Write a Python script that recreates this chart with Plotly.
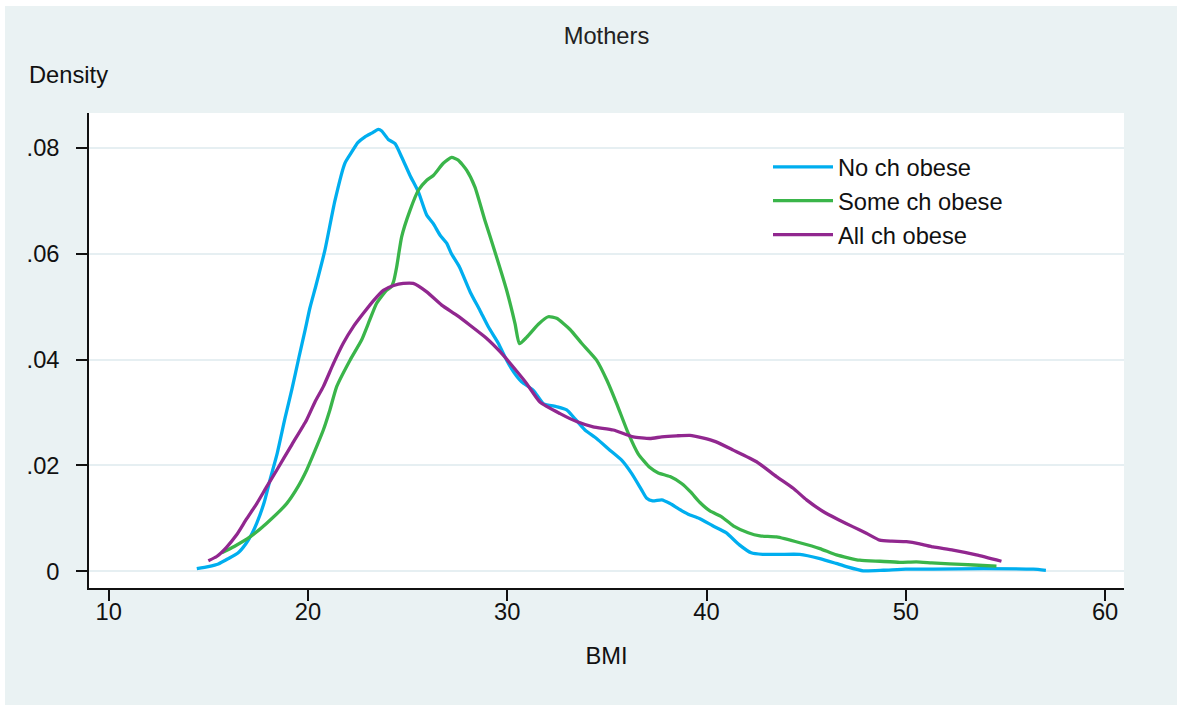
import plotly.graph_objects as go

# ---------------- data ----------------
series_names = ["No ch obese", "Some ch obese", "All ch obese"]

no_ch_bmi = [14.42, 15.0, 15.5, 16.0, 16.5, 16.9, 17.2, 17.43, 17.8, 18.11, 18.45, 18.85, 19.2, 19.55,
             19.85, 20.1, 20.4, 20.85, 21.35, 21.85, 22.19, 22.5, 22.86, 23.2, 23.53, 23.7, 24.03,
             24.37, 24.70, 25.12, 25.54, 25.96, 26.29, 26.63, 26.96, 27.2, 27.6, 28.15, 28.63, 29.05,
             29.55, 29.97, 30.35, 30.72, 31.31, 31.81, 32.48, 32.98, 33.31, 33.90, 34.48, 35.15,
             35.74, 36.24, 36.74, 37.0, 37.3, 37.75, 38.17, 38.6, 39.08, 39.64, 40.31, 40.98, 41.65,
             42.24, 42.82, 43.7, 44.68, 45.69, 46.5, 47.02, 47.86, 48.87, 50.0, 51.4, 53.9, 56.4, 57.03]
no_ch_density = [0.0005, 0.0009, 0.0014, 0.0024, 0.0035, 0.0053, 0.0072, 0.0091, 0.0130, 0.0175,
                 0.0222, 0.0290, 0.0345, 0.0405, 0.0455, 0.0498, 0.0540, 0.0607, 0.0700, 0.0771,
                 0.0792, 0.0810, 0.0821, 0.0828, 0.0835, 0.0832, 0.0816, 0.0808, 0.0783, 0.0748,
                 0.0717, 0.0673, 0.0657, 0.0635, 0.0620, 0.0600, 0.0575, 0.0527, 0.0493, 0.0462,
                 0.0431, 0.0399, 0.0375, 0.0358, 0.0342, 0.0317, 0.0311, 0.0305, 0.0292, 0.0267,
                 0.0251, 0.0229, 0.0210, 0.0185, 0.0154, 0.0138, 0.0133, 0.0135, 0.0128, 0.0118,
                 0.0108, 0.0100, 0.0086, 0.0073, 0.0050, 0.0035, 0.0032, 0.0032, 0.0032, 0.0024,
                 0.0015, 0.0009, 0.0001, 0.0002, 0.0004, 0.0004, 0.0005, 0.0004, 0.0002]

some_ch_bmi = [15.67, 16.3, 17.09, 17.93, 18.93, 19.5, 19.93, 20.35, 20.77, 21.1, 21.44, 22.11,
               22.69, 23.1, 23.44, 23.94, 24.19, 24.3, 24.45, 24.70, 25.12, 25.54, 25.96, 26.29,
               26.79, 27.21, 27.54, 27.96, 28.38, 28.88, 29.38, 29.97, 30.39, 30.61, 30.97, 31.56,
               32.06, 32.48, 33.15, 33.73, 34.48, 35.0, 35.49, 36.07, 36.57, 37.16, 37.58, 38.17,
               38.75, 39.2, 39.67, 40.17, 40.76, 41.34, 42.09, 42.68, 43.51, 44.68, 45.69, 46.52,
               47.69, 48.7, 49.7, 50.53, 51.3, 52.2, 53.4, 54.55]
some_ch_density = [0.0035, 0.0047, 0.0065, 0.0091, 0.0128, 0.0160, 0.0191, 0.0228, 0.0267, 0.0305,
                   0.0349, 0.0399, 0.0437, 0.0475, 0.0506, 0.0531, 0.0538, 0.0548, 0.0575, 0.0632,
                   0.0682, 0.0720, 0.0739, 0.0748, 0.0771, 0.0782, 0.0777, 0.0758, 0.0726, 0.0663,
                   0.0604, 0.0531, 0.0468, 0.0430, 0.0442, 0.0467, 0.0481, 0.0478, 0.0457, 0.0431,
                   0.0399, 0.0361, 0.0317, 0.0261, 0.0222, 0.0196, 0.0186, 0.0179, 0.0166, 0.0150,
                   0.0130, 0.0114, 0.0103, 0.0086, 0.0073, 0.0067, 0.0065, 0.0054, 0.0043, 0.0031,
                   0.0021, 0.0019, 0.0017, 0.0018, 0.0016, 0.0014, 0.0012, 0.0010]

all_ch_bmi = [15.0, 15.42, 15.9, 16.42, 16.9, 17.43, 17.9, 18.43, 19.2, 19.93, 20.35, 20.77, 21.27,
              21.77, 22.27, 22.77, 23.3, 23.78, 24.3, 24.78, 25.28, 25.96, 26.71, 27.46, 28.13,
              28.97, 29.64, 30.3, 30.97, 31.64, 32.65, 33.48, 34.31, 35.32, 36.32, 37.16, 37.75,
              38.5, 39.17, 39.8, 40.45, 41.34, 42.51, 43.51, 44.35, 45.02, 45.85, 46.6, 47.36,
              48.02, 48.69, 49.3, 50.03, 50.7, 51.37, 52.37, 53.54, 54.8]
all_ch_density = [0.0020, 0.0028, 0.0045, 0.0069, 0.0098, 0.0128, 0.0158, 0.0191, 0.0240, 0.0286,
                  0.0320, 0.0349, 0.0392, 0.0431, 0.0462, 0.0487, 0.0512, 0.0531, 0.0540, 0.0544,
                  0.0544, 0.0528, 0.0503, 0.0484, 0.0465, 0.0440, 0.0415, 0.0386, 0.0355, 0.0320,
                  0.0298, 0.0283, 0.0273, 0.0267, 0.0254, 0.0251, 0.0254, 0.0256, 0.0257, 0.0252,
                  0.0245, 0.0229, 0.0207, 0.0179, 0.0157, 0.0135, 0.0113, 0.0098, 0.0084, 0.0072,
                  0.0059, 0.0057, 0.0056, 0.0052, 0.0046, 0.0040, 0.0031, 0.0019]

x_tick_vals = [10, 20, 30, 40, 50, 60]
x_tick_text = ["10", "20", "30", "40", "50", "60"]
y_tick_vals = [0, 0.02, 0.04, 0.06, 0.08]
y_tick_text = ["0", ".02", ".04", ".06", ".08"]

# ---------------- styling ----------------
FONT = "Liberation Sans, Arial, Helvetica, sans-serif"
FS = 23.7
BG = "#EAF2F3"
GRID = "#E6EFF2"
INK = "#111111"
colors = ["#00AEEF", "#3AB54A", "#91278F"]
W, H = 1177, 705
L, T = 89, 113
R = W - 1124
B = H - 588
pw, ph = W - L - R, H - T - B

def px_x(p):
    return (p - L) / pw

def px_y(p):
    return (H - B - p) / ph

fig = go.Figure()
for name, xs, ys, c in zip(series_names,
                           [no_ch_bmi, some_ch_bmi, all_ch_bmi],
                           [no_ch_density, some_ch_density, all_ch_density],
                           colors):
    fig.add_trace(go.Scatter(x=xs, y=ys, mode="lines", name=name,
                             line=dict(color=c, width=3.3, shape="spline", smoothing=0.5)))

fig.update_layout(
    width=W, height=H,
    margin=dict(l=L, r=R, t=T, b=B, autoexpand=False),
    paper_bgcolor=BG, plot_bgcolor="white",
    font=dict(family=FONT, size=FS, color=INK),
    title=dict(text="Mothers", x=0.5, xref="paper", xanchor="center",
               y=1 - 36 / H, yref="container", yanchor="middle",
               font=dict(family=FONT, size=FS, color="#222222")),
    showlegend=True,
    legend=dict(x=px_x(768), y=px_y(145), xanchor="left", yanchor="top",
                bgcolor="rgba(0,0,0,0)", borderwidth=0, itemwidth=60,
                font=dict(family=FONT, size=FS, color=INK),
                tracegroupgap=0),
    xaxis=dict(range=[9.011, 60.95], tickvals=x_tick_vals, ticktext=x_tick_text,
               showgrid=False, zeroline=False, showline=True, linecolor=INK,
               linewidth=1.5, ticks="outside", ticklen=11, tickwidth=1.5,
               tickcolor=INK, ticklabelstandoff=-9,
               tickfont=dict(family=FONT, size=FS, color=INK),
               title=dict(text="BMI", font=dict(family=FONT, size=FS, color=INK),
                          standoff=23)),
    yaxis=dict(range=[-0.00315, 0.0866], tickvals=y_tick_vals, ticktext=y_tick_text,
               showgrid=True, gridcolor=GRID, gridwidth=1.6, zeroline=False,
               showline=True, linecolor=INK, linewidth=1.5, ticks="outside",
               ticklen=11, tickwidth=1.5, tickcolor=INK, ticklabelstandoff=12,
               tickfont=dict(family=FONT, size=FS, color=INK)),
)

# "Density" axis title, horizontal at the top-left as in the reference
fig.add_annotation(text="Density", xref="paper", yref="paper",
                   x=px_x(27), y=px_y(75), xanchor="left", yanchor="middle",
                   showarrow=False, font=dict(family=FONT, size=FS, color=INK))

# thin white frame along the top and left edges of the picture
fig.add_shape(type="rect", xref="paper", yref="paper", layer="below",
              x0=px_x(-20), x1=px_x(5), y0=px_y(730), y1=px_y(-20),
              fillcolor="white", line=dict(width=0))
fig.add_shape(type="rect", xref="paper", yref="paper", layer="below",
              x0=px_x(-20), x1=px_x(1200), y0=px_y(6), y1=px_y(-20),
              fillcolor="white", line=dict(width=0))

fig.write_html(
    "out.html",
    config={"displayModeBar": False},
    post_script=("document.body.style.margin='0';"
                 "document.body.style.overflow='hidden';"
                 "document.documentElement.style.background='" + BG + "';"
                 "document.body.style.background='" + BG + "';"),
)
